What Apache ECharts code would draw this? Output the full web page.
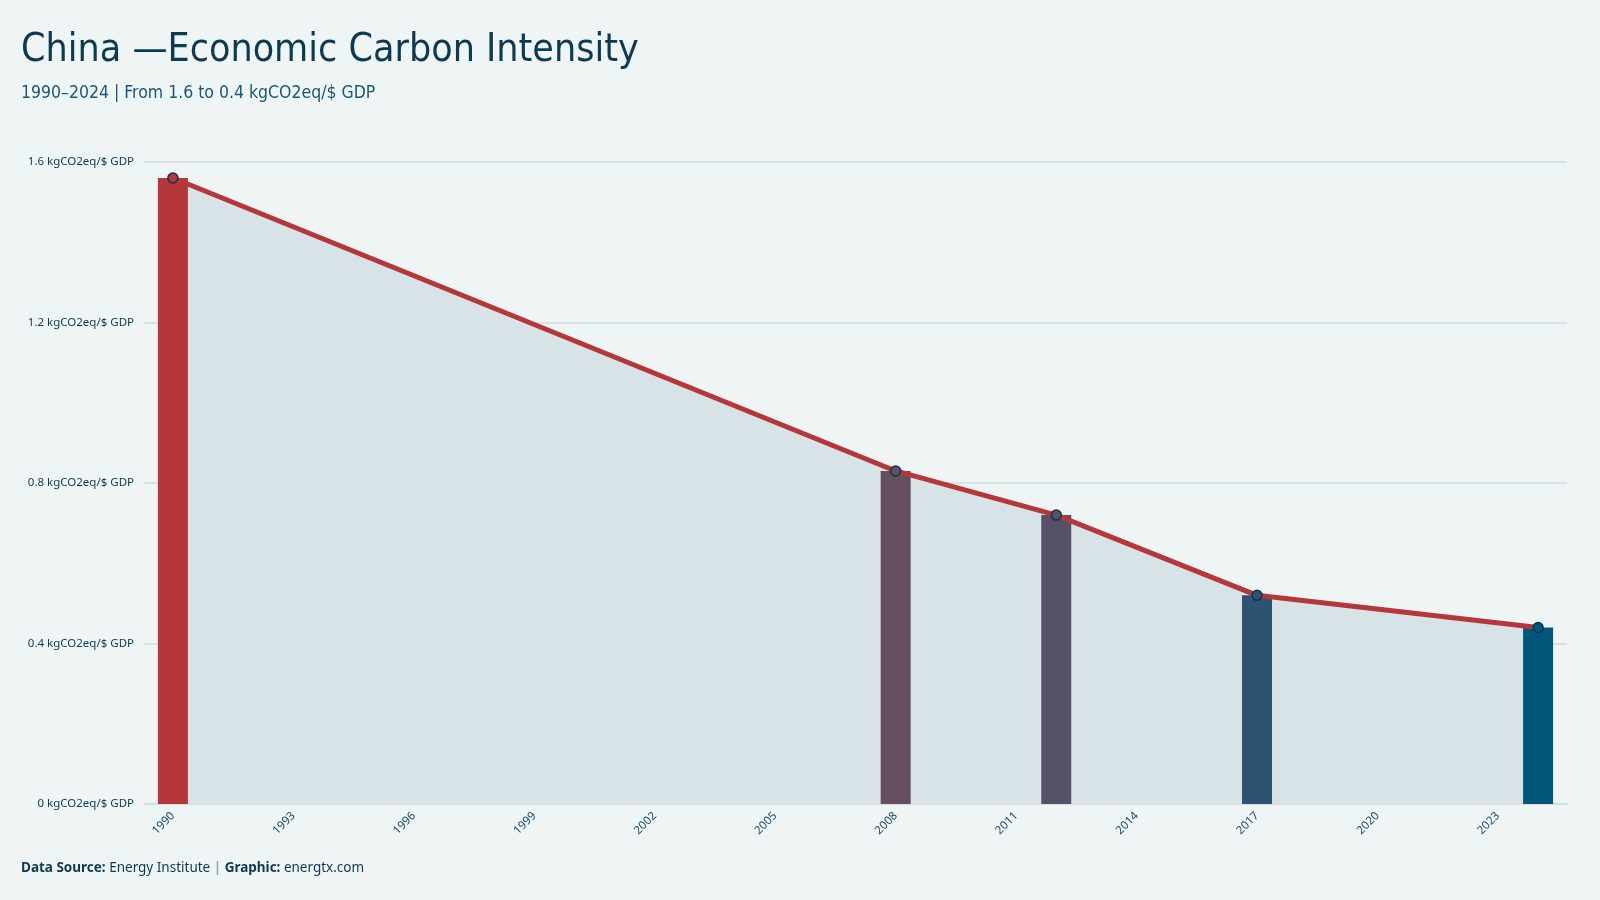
<!DOCTYPE html>
<html>
<head>
<meta charset="utf-8">
<script src="https://cdn.jsdelivr.net/npm/echarts@6/dist/echarts.min.js"></script>
<style>
  html, body { margin: 0; padding: 0; background: #eff5f5; }
  #chart { width: 1600px; height: 900px; }
</style>
</head>
<body>
<div id="chart"></div>
<script>
// carbon intensity, kgCO2eq per $ GDP
const years = [1990, 2008, 2012, 2017, 2024]
const intensity = [1.56, 0.83, 0.72, 0.52, 0.44]
const xTickLabels = [1990, 1993, 1996, 1999, 2002, 2005, 2008, 2011, 2014, 2017, 2020, 2023]
const yTicks = [0, 0.4, 0.8, 1.2, 1.6]

const barColors = ['#b5373a', '#654f60', '#565166', '#2e5272', '#02567a']
const unit = ' kgCO2eq/$ GDP'
const narrow = "'DejaVu Sans Condensed', 'Liberation Sans Narrow', 'Noto Sans', sans-serif"

const points = years.map((y, i) => [y, intensity[i]])

const chart = echarts.init(document.getElementById('chart'))

chart.setOption({
  backgroundColor: '#eff5f5',
  animation: false,
  title: {
    text: 'China \u2014Economic Carbon Intensity',
    subtext: '1990\u20132024 | From 1.6 to 0.4 kgCO2eq/$ GDP',
    left: 16,
    top: 26,
    itemGap: 14,
    textStyle: { fontFamily: narrow, fontSize: 39, fontWeight: 'normal', color: '#0c3a50' },
    subtextStyle: { fontFamily: narrow, fontSize: 17.5, color: '#1b5778' },
  },
  grid: { left: 144, right: 33, top: 162, bottom: 96 },
  xAxis: {
    type: 'value',
    min: 1989.28,
    max: 2024.72,
    splitLine: { show: false },
    axisLine: { show: true, lineStyle: { color: '#cfdde0', width: 1.5 } },
    axisTick: { show: false },
    axisLabel: {
      customValues: xTickLabels,
      rotate: 45,
      margin: 10,
      fontFamily: 'Noto Sans',
      fontSize: 11.5,
      color: '#1d4a68',
      formatter: v => String(v),
    },
  },
  yAxis: {
    type: 'value',
    min: yTicks[0],
    max: yTicks[yTicks.length - 1],
    interval: 0.4,
    axisLine: { show: false },
    axisTick: { show: false },
    splitLine: { lineStyle: { color: '#d0dcdf', width: 1.5 } },
    axisLabel: {
      margin: 10,
      fontFamily: 'Noto Sans',
      fontSize: 11.5,
      color: '#0c3a50',
      formatter: v => (+v.toFixed(1)) + unit,
    },
  },
  series: [
    {
      // area fill under the trend
      type: 'line',
      data: points,
      z: 1,
      symbol: 'none',
      lineStyle: { width: 0 },
      areaStyle: { color: '#d7e3e7', opacity: 1 },
      silent: true,
    },
    {
      type: 'bar',
      data: points.map((p, i) => ({ value: p, itemStyle: { color: barColors[i] } })),
      barWidth: 30,
      z: 2,
    },
    {
      type: 'line',
      data: points.map((p, i) => ({ value: p, itemStyle: { color: barColors[i] } })),
      z: 3,
      symbol: 'circle',
      symbolSize: 10,
      lineStyle: { color: '#b5373a', width: 5 },
      itemStyle: { borderColor: '#0b3550', borderWidth: 1.5 },
    },
  ],
  graphic: [
    {
      type: 'text',
      left: 21,
      top: 861,
      style: {
        text: '{b|Data Source:} Energy Institute {s||} {b|Graphic:} energtx.com',
        fontFamily: 'Noto Sans',
        fontSize: 13.5,
        fill: '#0c3a50',
        rich: {
          b: { fontFamily: 'Noto Sans', fontSize: 13.5, fontWeight: 'bold', fill: '#0c3a50' },
          s: { fontFamily: 'Noto Sans', fontSize: 13.5, fontWeight: 'bold', fill: '#8aa4b4' },
        },
      },
    },
  ],
})
</script>
</body>
</html>
